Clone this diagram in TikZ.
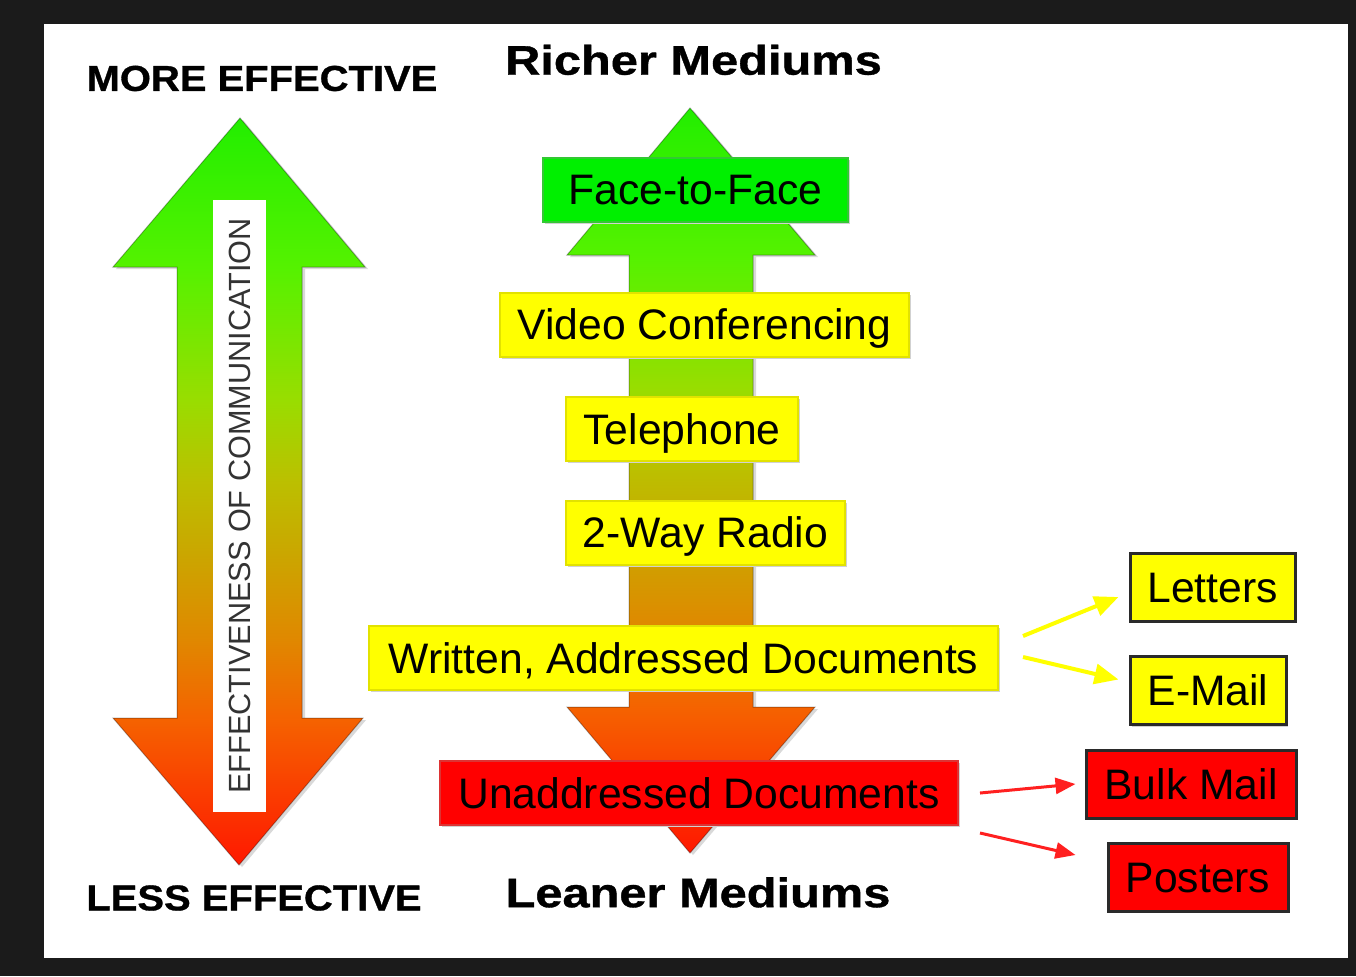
\documentclass[tikz,border=0pt]{standalone}
\usepackage{fontspec}
\setmainfont{Liberation Sans}
\newfontfamily\heavyfont[FakeBold=0.8]{Liberation Sans Bold}
\usetikzlibrary{arrows.meta,shadows}
\definecolor{frame}{HTML}{1B1B1B}
\definecolor{g0}{HTML}{22EE00}
\definecolor{g1}{HTML}{55F200}
\definecolor{g2}{HTML}{99DD00}
\definecolor{g3}{HTML}{BBC000}
\definecolor{g4}{HTML}{CCA400}
\definecolor{g5}{HTML}{E08800}
\definecolor{g6}{HTML}{F56200}
\definecolor{g7}{HTML}{FF1800}
\definecolor{boxgreen}{HTML}{00F000}
\definecolor{boxgreenb}{HTML}{33C833}
\definecolor{boxyellow}{HTML}{FFFF00}
\definecolor{boxyellowb}{HTML}{E2E200}
\definecolor{boxred}{HTML}{FF0000}
\definecolor{boxredb}{HTML}{DD3333}
\definecolor{darkb}{HTML}{2A2A2A}
\definecolor{arrowyellow}{HTML}{FFFF00}
\definecolor{arrowred}{HTML}{FF2020}
\definecolor{striptext}{HTML}{333333}
\pgfdeclareverticalshading{effgrad}{100bp}{color(0bp)=(g7); color(25bp)=(g7); color(34.7bp)=(g6); color(40.1bp)=(g5); color(45.4bp)=(g4); color(50.8bp)=(g3); color(56.1bp)=(g2); color(65bp)=(g1); color(75bp)=(g0); color(100bp)=(g0)}
\begin{document}
\begin{tikzpicture}[x=0.75pt,y=-0.75pt,
  bigarrow/.style={shading=effgrad, draw=black, draw opacity=0.3, line width=0.75pt},
  arrowshadow/.style={fill=black!15, xshift=2.25pt, yshift=-1.5pt},
  medbox/.style={inner sep=0pt, text height=23pt, text depth=0pt,
    font=\fontsize{32}{38}\selectfont, line width=1.5pt, minimum height=48pt,
    drop shadow={shadow xshift=1.5pt, shadow yshift=-1.5pt, fill=black!18, opacity=1}},
  greenbox/.style={medbox, fill=boxgreen, draw=boxgreenb},
  yellowbox/.style={medbox, fill=boxyellow, draw=boxyellowb},
  redbox/.style={medbox, fill=boxred, draw=boxredb},
  sidebox/.style={medbox, line width=2.25pt, draw=darkb, minimum height=51pt},
  sideyellow/.style={sidebox, fill=boxyellow},
  sidered/.style={sidebox, fill=boxred},
  bigtitle/.style={inner sep=0pt, text height=22pt, text depth=0pt, font=\fontsize{31}{36}\selectfont\heavyfont},
  sidetitle/.style={inner sep=0pt, text height=19.3pt, text depth=0pt, font=\fontsize{27}{32}\selectfont\heavyfont},
  stripbox/.style={fill=white, inner sep=0pt, text height=16.5pt, text depth=0pt,
    font=\fontsize{23}{28}\selectfont, text=striptext},
  yarrow/.style={draw=arrowyellow, line width=3pt, -{Triangle[length=18pt,width=15pt]}},
  rarrow/.style={draw=arrowred, line width=2.25pt, -{Triangle[length=15pt,width=12pt]}}
]
\useasboundingbox (0,0) rectangle (1356,976);
\fill[frame] (0,0) rectangle (1356,976);
\fill[white] (44,24) rectangle (1348,958);

% left double arrow
\fill[arrowshadow] (240,118) -- (365,267) -- (302,267) -- (302,718) -- (363,718) -- (239,865)
  -- (113,718) -- (177,718) -- (177,267) -- (113,267) -- cycle;
\path[bigarrow] (240,118) -- (365,267) -- (302,267) -- (302,718) -- (363,718) -- (239,865)
  -- (113,718) -- (177,718) -- (177,267) -- (113,267) -- cycle;

% middle double arrow
\fill[arrowshadow] (690,108) -- (815,255) -- (753,255) -- (753,707) -- (815,707) -- (690,853)
  -- (567,707) -- (629,707) -- (629,255) -- (567,255) -- cycle;
\path[bigarrow] (690,108) -- (815,255) -- (753,255) -- (753,707) -- (815,707) -- (690,853)
  -- (567,707) -- (629,707) -- (629,255) -- (567,255) -- cycle;

% white strip with rotated label
\node[stripbox, rotate=90, minimum width=459pt, minimum height=39.75pt] (strip) at (239.5,506)
  {EFFECTIVENESS OF COMMUNICATION};

% titles
\node[sidetitle] (more) at (262,78) {\scalebox{1.11}[1]{MORE EFFECTIVE}};
\node[sidetitle] (less) at (254,897.5) {\scalebox{1.11}[1]{LESS EFFECTIVE}};
\node[bigtitle] (richer) at (693.5,60) {\scalebox{1.18}[1]{Richer Mediums}};
\node[bigtitle] (leaner) at (698,892.5) {\scalebox{1.18}[1]{Leaner Mediums}};

% medium boxes
\node[greenbox, minimum width=228.75pt] (face) at (695.5,189.5) {Face-to-Face};
\node[yellowbox, minimum width=306.75pt] (video) at (704.5,324.5) {Video Conferencing};
\node[yellowbox, minimum width=174pt] (phone) at (682,429) {Telephone};
\node[yellowbox, minimum width=209.25pt] (radio) at (705.5,532.5) {2-Way Radio};
\node[yellowbox, minimum width=471.75pt] (wad) at (683.5,658) {Written, Addressed Documents};
\node[redbox, minimum width=388.5pt] (uad) at (699,793) {Unaddressed Documents};

% side boxes
\node[sideyellow, minimum width=123.75pt] (letters) at (1212.5,587) {Letters};
\node[sideyellow, minimum width=117pt] (email) at (1208,690.5) {E-Mail};
\node[sidered, minimum width=157.5pt] (bulk) at (1191,784) {Bulk Mail};
\node[sidered, minimum width=135pt] (posters) at (1198,877) {Posters};

% connectors
\draw[yarrow] ([shift={(24,-22)}]wad.east) -- ([shift={(-10,10)}]letters.west);
\draw[yarrow] ([shift={(24,-1)}]wad.east) -- ([shift={(-10,-11)}]email.west);
\draw[rarrow] ([shift={(21,0)}]uad.east) -- ([shift={(-9,0)}]bulk.west);
\draw[rarrow] ([shift={(21,40)}]uad.east) -- ([shift={(-31,-22)}]posters.west);
\end{tikzpicture}
\end{document}
